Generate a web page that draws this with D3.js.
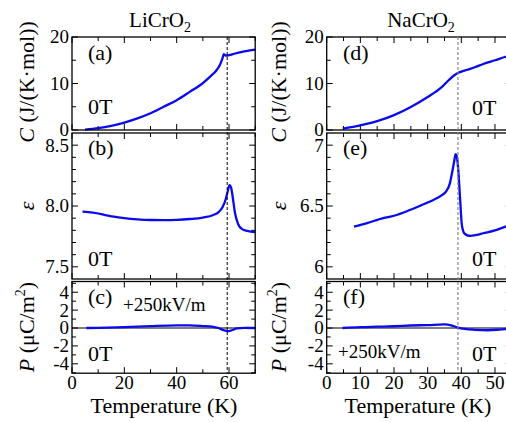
<!DOCTYPE html>
<html>
<head>
<meta charset="utf-8">
<script src="https://cdn.jsdelivr.net/npm/d3@7"></script>
<style>
  body { margin: 0; background: #fff; }
  text { font-family: "Liberation Serif", "Times New Roman", serif; fill: #000; }
</style>
</head>
<body>
<div id="chart"></div>
<script>
// 数据：LiCrO2
const liT_C = [5, 10, 15, 20, 25, 30, 35, 40, 45, 50, 53, 55, 56.5, 57.5, 58, 58.5, 59, 60, 62, 65, 68, 70];
const liC = [0.1, 0.4, 0.9, 1.6, 2.5, 3.6, 5.0, 6.4, 8.2, 10.1, 11.6, 12.7, 14.0, 15.4, 16.3, 16.1, 16.0, 16.1, 16.4, 16.8, 17.1, 17.3];
const liT_E = [4, 8, 12, 16, 20, 25, 30, 35, 40, 45, 50, 54, 56, 57.5, 58.8, 59.6, 60.2, 60.8, 61.5, 62.3, 63.5, 65, 67, 70];
const liE = [7.953, 7.945, 7.93, 7.912, 7.9, 7.89, 7.885, 7.884, 7.886, 7.893, 7.905, 7.926, 7.95, 7.99, 8.06, 8.13, 8.172, 8.15, 8.06, 7.94, 7.85, 7.81, 7.795, 7.785];
const liT_P = [5.5, 10, 20, 30, 40, 45, 50, 54, 56, 58, 59.5, 61, 63, 66, 70];
const liP = [0.0, 0.02, 0.1, 0.22, 0.3, 0.3, 0.22, 0.12, 0.0, -0.25, -0.35, -0.25, -0.05, 0.02, 0.0];

// 数据：NaCrO2
const naT_C = [4.75, 10, 15, 20, 25, 30, 34, 36.5, 38.8, 41.5, 44, 46.5, 50, 53, 55];
const naC = [0.3, 1.0, 1.9, 3.2, 4.95, 7.1, 9.1, 10.9, 12.2, 12.9, 13.5, 14.2, 15.0, 15.7, 16.1];
const naT_E = [8.1, 12, 16.8, 20, 24.7, 28, 31.7, 34, 35.5, 36.6, 37.3, 37.9, 38.3, 38.7, 39.1, 39.6, 40.1, 40.6, 41.1, 42.6, 44.5, 46.5, 50, 53.1, 55];
const naE = [6.33, 6.36, 6.40, 6.42, 6.467, 6.505, 6.55, 6.585, 6.62, 6.686, 6.78, 6.87, 6.926, 6.9, 6.795, 6.576, 6.36, 6.29, 6.27, 6.254, 6.262, 6.276, 6.30, 6.33, 6.35];
const naT_P = [4.7, 10, 15, 20, 25, 30, 35, 37, 39, 41, 44, 48, 52, 55];
const naP = [0.0, 0.1, 0.15, 0.2, 0.28, 0.33, 0.4, 0.3, 0.05, -0.1, -0.2, -0.25, -0.15, -0.1];

const transitionLi = 59.3;
const transitionNa = 39;

const WIDTH = 506;
const HEIGHT = 422;

const svg = d3.select("#chart").append("svg")
  .attr("width", WIDTH)
  .attr("height", HEIGHT);

// x 比例尺
const xLi = d3.scaleLinear().domain([0, 70]).range([72, 255.2]);
const xNa = d3.scaleLinear().domain([0, 55]).range([326.7, 511.8]);

// 各行 y 比例尺
const yC = d3.scaleLinear().domain([0, 20]).range([130, 37]);
const yLiE = d3.scaleLinear().domain([7.4, 8.6]).range([279, 133]);
const yNaE = d3.scaleLinear().domain([5.9, 7.1]).range([279, 133]);
const yP = d3.scaleLinear().domain([-5.05, 5.2]).range([373.2, 281.5]);

const line = (x, y) => d3.line().x(d => x(d[0])).y(d => y(d[1])).curve(d3.curveMonotoneX);

function drawPanel(x, y, opt) {
  const g = svg.append("g");
  const [x0, x1] = x.range();
  const [y0, y1] = y.range(); // y0 底部, y1 顶部

  // 刻度（四边向内）
  const tickLen = (major) => major ? 6 : 4;
  opt.xTicks.forEach(t => {
    const major = opt.xMajor(t);
    const xx = x(t);
    if (xx > WIDTH + 10) return;
    g.append("line").attr("x1", xx).attr("x2", xx).attr("y1", y0).attr("y2", y0 - tickLen(major))
      .attr("stroke", "#000").attr("stroke-width", 1);
    g.append("line").attr("x1", xx).attr("x2", xx).attr("y1", y1).attr("y2", y1 + tickLen(major))
      .attr("stroke", "#000").attr("stroke-width", 1);
    if (opt.xLabels && major) {
      g.append("text").attr("x", xx).attr("y", 389)
        .attr("text-anchor", "middle").attr("font-size", 19).text(t);
    }
  });
  opt.yTicks.forEach(t => {
    const major = opt.yMajor(t);
    const yy = y(t);
    g.append("line").attr("x1", x0).attr("x2", x0 + tickLen(major)).attr("y1", yy).attr("y2", yy)
      .attr("stroke", "#000").attr("stroke-width", 1);
    g.append("line").attr("x1", x1).attr("x2", x1 - tickLen(major)).attr("y1", yy).attr("y2", yy)
      .attr("stroke", "#000").attr("stroke-width", 1);
    if (major) {
      g.append("text").attr("x", x0 - 3).attr("y", yy).attr("dy", "0.34em")
        .attr("text-anchor", "end").attr("font-size", 19).text(opt.yFmt(t));
    }
  });

  // 零线
  if (opt.zeroLine) {
    g.append("line").attr("x1", x0).attr("x2", x1).attr("y1", y(0)).attr("y2", y(0))
      .attr("stroke", "#000").attr("stroke-width", 1.2);
  }

  // 数据曲线
  g.append("path")
    .datum(opt.T.map((t, i) => [t, opt.V[i]]))
    .attr("d", line(x, y))
    .attr("fill", "none")
    .attr("stroke", "#0a0aee")
    .attr("stroke-width", 2.3);

  // 边框
  g.append("rect").attr("x", x0).attr("y", y1).attr("width", x1 - x0).attr("height", y0 - y1)
    .attr("fill", "none").attr("stroke", "#000").attr("stroke-width", 1.3);

  // 标注文字
  opt.notes.forEach(n => {
    g.append("text").attr("x", n.x).attr("y", n.y).attr("font-size", n.size || 22).text(n.text);
  });
}

const range = (a, b, s) => d3.range(a, b + s / 2, s).map(v => +v.toFixed(3));
const isMult = (m) => (t) => Math.abs(t / m - Math.round(t / m)) < 1e-6;

// 左列 LiCrO2
drawPanel(xLi, yC, {
  T: liT_C, V: liC,
  xTicks: range(0, 70, 10), xMajor: isMult(20),
  yTicks: range(0, 20, 5), yMajor: isMult(10), yFmt: d => d,
  notes: [{ x: 88, y: 60, text: "(a)" }, { x: 88, y: 114, text: "0T" }]
});
drawPanel(xLi, yLiE, {
  T: liT_E, V: liE,
  xTicks: range(0, 70, 10), xMajor: isMult(20),
  yTicks: range(7.5, 8.5, 0.1), yMajor: isMult(0.5), yFmt: d3.format(".1f"),
  notes: [{ x: 88, y: 155, text: "(b)" }, { x: 88, y: 266, text: "0T" }]
});
drawPanel(xLi, yP, {
  T: liT_P, V: liP, zeroLine: true, xLabels: true,
  xTicks: range(0, 70, 10), xMajor: isMult(20),
  yTicks: range(-5, 5, 1), yMajor: t => isMult(2)(t) && Math.abs(t) <= 4, yFmt: d => d,
  notes: [{ x: 88, y: 304, text: "(c)" }, { x: 123, y: 311, text: "+250kV/m", size: 19 },
          { x: 88, y: 361, text: "0T" }]
});

// 右列 NaCrO2
drawPanel(xNa, yC, {
  T: naT_C, V: naC,
  xTicks: range(0, 55, 5), xMajor: isMult(10),
  yTicks: range(0, 20, 5), yMajor: isMult(10), yFmt: d => d,
  notes: [{ x: 343, y: 60, text: "(d)" }, { x: 472, y: 115, text: "0T" }]
});
drawPanel(xNa, yNaE, {
  T: naT_E, V: naE,
  xTicks: range(0, 55, 5), xMajor: isMult(10),
  yTicks: range(6, 7, 0.1), yMajor: isMult(0.5), yFmt: d => d3.format("")(d),
  notes: [{ x: 343, y: 155, text: "(e)" }, { x: 472, y: 266, text: "0T" }]
});
drawPanel(xNa, yP, {
  T: naT_P, V: naP, zeroLine: true, xLabels: true,
  xTicks: range(0, 55, 5), xMajor: isMult(10),
  yTicks: range(-5, 5, 1), yMajor: t => isMult(2)(t) && Math.abs(t) <= 4, yFmt: d => d,
  notes: [{ x: 343, y: 304, text: "(f)" }, { x: 338, y: 358, text: "+250kV/m", size: 19 },
          { x: 472, y: 361, text: "0T" }]
});

// 转变温度虚线
svg.append("line")
  .attr("x1", xLi(transitionLi)).attr("x2", xLi(transitionLi))
  .attr("y1", 37).attr("y2", 373)
  .attr("stroke", "#000").attr("stroke-width", 1).attr("stroke-dasharray", "3,2");
svg.append("line")
  .attr("x1", xNa(transitionNa)).attr("x2", xNa(transitionNa))
  .attr("y1", 37).attr("y2", 373)
  .attr("stroke", "#888").attr("stroke-width", 1.2).attr("stroke-dasharray", "3,2");

// 标题
function title(cx, name) {
  const t = svg.append("text").attr("x", cx).attr("y", 27).attr("text-anchor", "middle").attr("font-size", 21);
  t.append("tspan").text(name);
  t.append("tspan").attr("font-size", 14).attr("dy", 5).text("2");
}
title(160, "LiCrO");
title(421, "NaCrO");

// x 轴标题
[[164, "Temperature (K)"], [418, "Temperature (K)"]].forEach(([cx, s]) => {
  svg.append("text").attr("x", cx).attr("y", 413).attr("text-anchor", "middle")
    .attr("font-size", 22).text(s);
});

// y 轴标题
function yLabel(bx, cy, build) {
  const t = svg.append("text")
    .attr("transform", `translate(${bx},${cy}) rotate(-90)`)
    .attr("text-anchor", "middle").attr("font-size", 22);
  build(t);
}
[34, 286].forEach(bx => {
  yLabel(bx, 82, t => {
    t.append("tspan").attr("font-style", "italic").text("C");
    t.append("tspan").text(" (J/(K·mol))");
  });
  yLabel(bx, 206, t => {
    t.append("tspan").attr("font-style", "italic").text("ε");
  });
  yLabel(bx, 327, t => {
    t.append("tspan").attr("font-style", "italic").text("P");
    t.append("tspan").text(" (μC/m");
    t.append("tspan").attr("font-size", 14).attr("dy", -9).text("2");
    t.append("tspan").attr("dy", 9).text(")");
  });
});
</script>
</body>
</html>
